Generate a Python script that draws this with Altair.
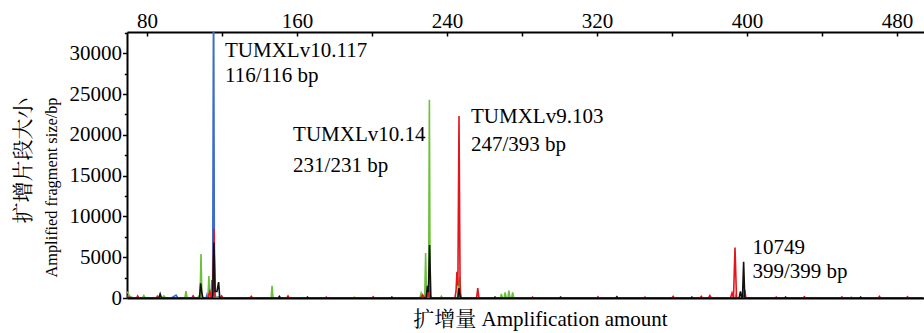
import altair as alt
import pandas as pd

# ---- trace data (fragment size, signal) ----
blue_x = [69.5, 71, 73, 80, 93, 95.5, 96.5, 98, 104, 104.6, 105.2, 110, 111.5, 112, 112.5, 114.1, 114.6, 115.0,
          115.5, 116.0, 117, 118, 120, 130, 200, 229.5, 230.5, 231.5, 245.5, 246.3, 247, 300, 494]
blue_y = [300, 80, 0, 0, 0, 350, 0, 0, 0, 250, 0, 0, 0, 400, 0, 0, 2200, 300,
          40000, 300, 0, 150, 0, 0, 0, 0, 250, 0, 0, 150, 0, 0, 0]

green_x = [69.5, 70.5, 72, 77.5, 78.3, 79, 88, 89, 90, 100.2, 100.8, 101.4, 107, 107.5, 108.3, 108.8, 109.3,
           111, 112.5, 113.0, 113.5, 116, 116.5, 117, 130, 146.2, 146.7, 147.2, 190, 190.6, 191.2, 225.5, 226.2,
           227, 228.1, 228.6, 229.1, 229.8, 230.2, 230.6, 231.0, 231.8, 233, 236.5, 237, 237.5, 245.5, 246.1,
           246.8, 247.5, 248, 268.5, 269, 269.6, 270.5, 271, 271.6, 272.5, 273, 273.6, 274.5, 275, 275.6,
           276.5, 300, 393.5, 394, 394.6, 455, 455.6, 456.2, 494]
green_y = [800, 300, 0, 0, 300, 0, 0, 250, 0, 0, 850, 0, 0, 200, 0, 5400, 0,
           0, 0, 2700, 0, 0, 300, 0, 0, 0, 1500, 0, 0, 100, 0, 0, 600,
           0, 0, 5500, 300, 0, 900, 24300, 300, 0, 0, 0, 200, 0, 0, 1800,
           2600, 0, 0, 0, 500, 0, 0, 700, 0, 0, 900, 0, 0, 700, 0,
           0, 0, 0, 300, 0, 0, 120, 0, 0]

red_x = [69.5, 74.5, 75, 75.6, 85, 85.5, 86, 104, 104.6, 105.2, 112.5, 113.5, 114.3, 115.1, 115.7, 116.3, 117,
         119, 119.8, 120.5, 135, 135.6, 136.2, 154.5, 155.2, 155.8, 175, 175.6, 176.2, 200, 200.6, 201.2,
         226, 227, 228, 229.5, 230.1, 230.7, 231.5, 244.2, 244.8, 245.3, 245.8, 246.4, 247, 247.6, 255.8,
         256.4, 257, 285, 285.6, 286.2, 320, 320.5, 321, 345, 345.6, 346.2, 360, 360.6, 361.2, 375, 375.6,
         376.2, 379.5, 380.2, 381, 391.2, 392, 392.8, 393.6, 394.4, 398.2, 398.8, 399.4, 415, 415.6, 416.2,
         430, 430.6, 431.2, 450, 450.6, 451.2, 470, 470.6, 471.2, 485, 485.6, 486.2, 494]
red_y = [100, 0, 250, 0, 0, 200, 0, 0, 200, 0, 0, 800, 0, 0, 8500, 0, 0,
         0, 250, 0, 0, 200, 0, 0, 250, 0, 0, 120, 0, 0, 150, 0,
         0, 400, 0, 0, 1100, 0, 0, 0, 800, 3200, 1500, 22300, 600, 0, 0,
         1200, 0, 0, 120, 0, 0, 150, 0, 0, 120, 0, 0, 200, 0, 0, 200,
         0, 0, 300, 0, 0, 600, 0, 6200, 0, 0, 1000, 0, 0, 120, 0,
         0, 150, 0, 0, 130, 0, 0, 200, 0, 0, 150, 0, 0]

black_x = [69.5, 86.3, 87, 87.7, 108, 108.6, 109.2, 109.8, 115.0, 115.7, 116.3, 117.3, 118.2, 118.8, 119.5,
           150, 150.6, 151.2, 165, 165.6, 166.2, 210, 210.6, 211.2, 228.8, 229.6, 230.1, 230.7, 231.4, 245.8,
           246.4, 247.1, 265, 265.6, 266.2, 300, 300.6, 301.2, 330, 330.6, 331.2, 370, 370.6, 371.2,
           395.8, 396.5, 397.2, 397.6, 398.2, 398.8, 420, 420.6, 421.2, 460, 460.6, 461.2, 494]
black_y = [0, 0, 500, 0, 0, 1800, 700, 0, 0, 6800, 800, 800, 1950, 0, 0,
           0, 200, 0, 0, 120, 0, 0, 120, 0, 0, 1500, 700, 6500, 0, 0,
           1200, 0, 0, 120, 0, 0, 120, 0, 0, 150, 0, 0, 120, 0,
           0, 800, 0, 0, 4450, 0, 0, 120, 0, 0, 120, 0, 0]

# ---- peak annotations ----
ann_x = [121.6, 121.6, 157.9, 157.9, 252.8, 252.8, 402.9, 402.9]
ann_y = [30330, 27150, 19980, 16180, 22180, 18750, 6090, 3130]
ann_text = ["TUMXLv10.117", "116/116 bp", "TUMXLv10.14", "231/231 bp",
            "TUMXLv9.103", "247/393 bp", "10749", "399/399 bp"]

x_ticks = [80, 120, 160, 200, 240, 280, 320, 360, 400, 440, 480]
y_ticks = [0, 2500, 5000, 7500, 10000, 12500, 15000, 17500, 20000, 22500, 25000, 27500, 30000, 32500]

FONT = "Liberation Serif, Noto Serif CJK SC, Noto Sans CJK SC"
FS = 21

xscale = alt.Scale(domain=[69.33, 494.4], nice=False, zero=False)
yscale = alt.Scale(domain=[0, 32600], nice=False)

top_axis = alt.Axis(
    orient="top", values=x_ticks, title=None, grid=False,
    labelExpr="datum.value % 80 === 0 ? datum.label : ''",
    labelFont=FONT, labelFontSize=FS, labelColor="black", labelPadding=5,
    domainColor="black", domainWidth=2, tickColor="black", tickWidth=1.5,
    tickSize={"expr": "-4"},
)
left_axis = alt.Axis(
    orient="left", values=y_ticks, grid=False, format="d",
    labelExpr="datum.value % 5000 === 0 ? datum.label : ''",
    labelFont=FONT, labelFontSize=FS, labelColor="black", labelPadding=1,
    domainColor="black", domainWidth=2, tickColor="black", tickWidth=1.5,
    tickSize={"condition": {"test": "datum.value % 5000 === 0", "value": 4.5}, "value": 2.7},
    title="扩增片段大小",
    titleFont=FONT, titleFontSize=FS, titleFontWeight="normal", titleColor="black",
    titleAngle=270, titleAlign="right", titleBaseline="middle",
    titleX=-104, titleY=65,
)
left_axis_en = alt.Axis(
    orient="left", labels=False, ticks=False, domain=False, grid=False,
    title="Amplified fragment size/bp",
    titleFont=FONT, titleFontSize=16.3, titleFontWeight="normal", titleColor="black",
    titleAngle=270, titleAlign="right", titleBaseline="middle",
    titleX=-76, titleY=65,
)
bottom_axis = alt.Axis(
    orient="bottom", labels=False, ticks=False, grid=False,
    domainColor="black", domainWidth=2,
    title="扩增量 Amplification amount",
    titleFont=FONT, titleFontSize=FS, titleFontWeight="normal", titleColor="black",
    titleX=413, titleY=21, titleBaseline="middle", titleAlign="center",
)


def trace(xs, ys, color, xaxis=None, yaxis=None):
    df = pd.DataFrame({"x": xs, "y": ys})
    return alt.Chart(df).mark_line(color=color, strokeWidth=1.6, clip=True).encode(
        x=alt.X("x:Q", scale=xscale, axis=xaxis),
        y=alt.Y("y:Q", scale=yscale, axis=yaxis),
    )


ann_df = pd.DataFrame({"x": ann_x, "y": ann_y, "t": ann_text})
labels = alt.Chart(ann_df).mark_text(
    align="left", baseline="middle", font=FONT, fontSize=FS, color="black"
).encode(
    x=alt.X("x:Q", scale=xscale, axis=bottom_axis),
    y=alt.Y("y:Q", scale=yscale, axis=None),
    text="t:N",
)

chart = alt.layer(
    trace(blue_x, blue_y, "#3d6cc9", xaxis=top_axis, yaxis=left_axis),
    trace(green_x, green_y, "#6cc03a", yaxis=left_axis_en),
    trace(red_x, red_y, "#e3141c"),
    trace(black_x, black_y, "#111111"),
    labels,
).resolve_axis(x="independent", y="independent").properties(
    width=797, height=266,
    autosize=alt.AutoSizeParams(type="none"),
    padding={"left": 127, "top": 32, "right": 0, "bottom": 35},
).configure_view(stroke=None).configure(background="white")

chart.save("out.html", embed_options={"renderer": "svg", "actions": False})
